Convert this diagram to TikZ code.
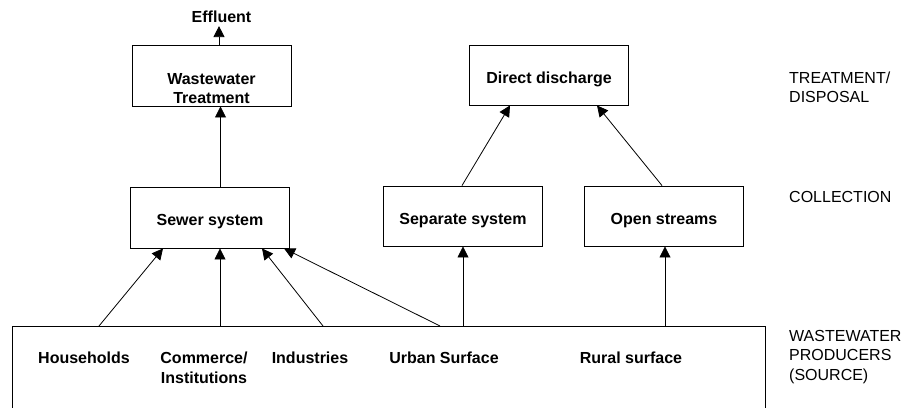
\documentclass[tikz,border=0pt]{standalone}
\usepackage{fontspec}
\setmainfont{Liberation Sans}
\usetikzlibrary{arrows.meta}
\begin{document}
\begin{tikzpicture}[x=1pt, y=-1pt,
    box/.style={draw, line width=0.9pt, minimum width=159pt, minimum height=60pt, inner sep=0pt, align=center, text height=16.5pt, text depth=0pt, font=\bfseries},
    tag/.style={align=left, anchor=west, inner sep=0pt},
    src/.style={align=center, inner sep=0pt, font=\bfseries},
    arr/.style={-{Triangle[length=11pt, width=11pt]}, line width=0.8pt}]
  \useasboundingbox (0,0) rectangle (913,407);
  \clip (0,0) rectangle (913,407);
  \fontsize{16}{19.5}\selectfont

  % treatment / disposal
  \node[box, minimum height=61pt] (treat) at (211.5,75.5) {\raisebox{-10.5pt}[0pt][0pt]{\begin{tabular}{@{}c@{}}Wastewater\\Treatment\end{tabular}}};
  \node[box] (direct) at (549,75) {Direct discharge};
  \node[src, inner sep=3pt] (effluent) at (221.5,17) {Effluent};

  % collection
  \node[box, minimum height=61pt] (sewer) at (210,217.5) {Sewer system};
  \node[box] (separate) at (463,216) {Separate system};
  \node[box] (streams) at (664,216) {Open streams};

  % producers
  \node[draw, line width=0.9pt, minimum width=753pt, minimum height=110pt, anchor=north west] (prod) at (12,326) {};
  \node[src] (households) at (84,358) {Households};
  \node[src] (commerce) at (204,368) {Commerce/\\Institutions};
  \node[src] (industries) at (310,358) {Industries};
  \node[src] (urban) at (444,358) {Urban Surface};
  \node[src] (rural) at (631,358) {Rural surface};

  % levels
  \node[tag] (lvltreat) at (789,87.5) {TREATMENT/\\DISPOSAL};
  \node[tag] (lvlcoll) at (789,197) {COLLECTION};
  \node[tag] (lvlsrc) at (789,357) {WASTEWATER\\PRODUCERS\\(SOURCE)};

  % connectors
  \draw[arr] (treat.north -| 219,0) -- (effluent.south -| 219,0);
  \draw[arr] (sewer.north -| 220.5,0) -- (treat.south -| 220.5,0);
  \draw[arr] (separate.north -| 462,0) -- (direct.south -| 510,0);
  \draw[arr] (streams.north -| 662,0) -- (direct.south -| 597,0);
  \foreach \sx/\dx in {99/163, 220/220, 323/262, 440/284}
    \draw[arr] (prod.north -| \sx,0) -- (sewer.south -| \dx,0);
  \draw[arr] (prod.north -| 463,0) -- (separate.south -| 463,0);
  \draw[arr] (prod.north -| 665,0) -- (streams.south -| 665,0);
\end{tikzpicture}
\end{document}
